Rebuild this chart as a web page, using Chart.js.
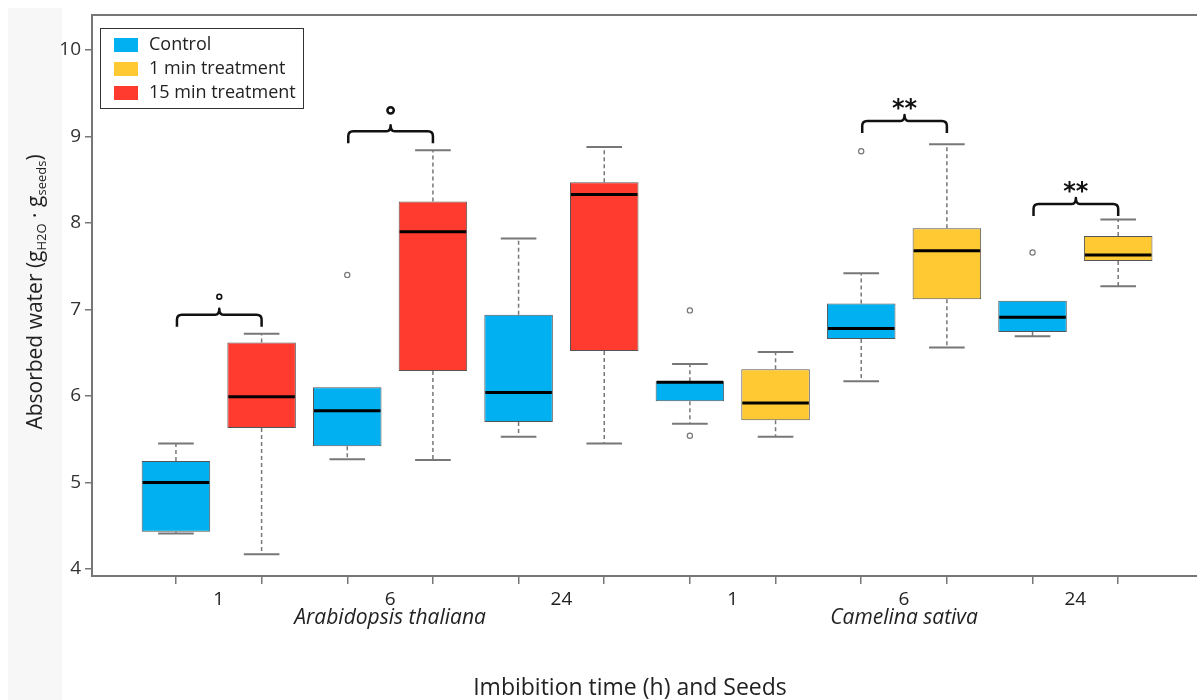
<!DOCTYPE html>
<html><head><meta charset="utf-8">
<script src="https://cdn.jsdelivr.net/npm/chart.js@4.4.0/dist/chart.umd.min.js"></script>
<style>html,body{margin:0;padding:0;background:#fff}#wrap{width:1197px;height:700px;position:relative}</style>
</head><body><div id="wrap"><canvas id="c" width="1197" height="700"></canvas></div>
<script>
// ---- data ----
const boxLabels = ['A1 Control','A1 15min','A6 Control','A6 15min','A24 Control','A24 15min','C1 Control','C1 1min','C6 Control','C6 1min','C24 Control','C24 1min'];
const treatments = ['Control','1 min treatment','15 min treatment'];
const treatmentColors = ['#00B0F0','#FFC933','#FF3A2F'];
const boxTreatment = [0,2,0,2,0,2,0,1,0,1,0,1];
const whiskerLow  = [4.41,4.17,5.27,5.26,5.53,5.45,5.68,5.53,6.17,6.56,6.69,7.27];
const q1          = [4.43,5.63,5.42,6.29,5.70,6.52,5.94,5.72,6.66,7.12,6.74,7.56];
const median      = [5.00,5.99,5.83,7.90,6.04,8.33,6.16,5.92,6.78,7.68,6.91,7.63];
const q3          = [5.25,6.62,6.10,8.25,6.94,8.47,6.17,6.31,7.07,7.94,7.10,7.85];
const whiskerHigh = [5.45,6.72,6.10,8.84,7.82,8.88,6.37,6.51,7.42,8.91,7.10,8.04];
const outlierBox   = [2,6,6,8,10];
const outlierValue = [7.40,6.99,5.54,8.83,7.66];
const yTicks = [4,5,6,7,8,9,10];
const timeLabels = ['1','6','24','1','6','24'];
const speciesLabels = ['Arabidopsis thaliana','Camelina sativa'];
const bracketPairs = [[0,1],[2,3],[8,9],[10,11]];
const bracketLevel = [6.94,9.06,9.18,8.22];
const bracketMark  = ['°','°','**','**'];

const FONT = '"Open Sans", Lato, sans-serif';
const boxIdx = boxLabels.map((_, i) => i);

const datasets = treatments.map((t, k) => ({
  type: 'bar',
  label: t,
  data: boxIdx.filter(i => boxTreatment[i] === k).map(i => ({x: i, y: [q1[i], q3[i]]})),
  backgroundColor: treatmentColors[k],
  borderColor: '#555',
  borderWidth: 1,
  borderSkipped: false,
  grouped: false,
  barPercentage: 1,
  categoryPercentage: 0.8
}));
datasets.push({
  type: 'scatter',
  label: 'outliers',
  data: outlierBox.map((b, j) => ({x: b, y: outlierValue[j]})),
  pointRadius: 2.6,
  pointBackgroundColor: '#fff',
  pointBorderColor: '#777',
  pointBorderWidth: 1.2
});

const bgPlugin = {
  id: 'bg',
  beforeDraw(chart) {
    const c = chart.ctx;
    c.save();
    c.fillStyle = '#fff'; c.fillRect(0, 0, chart.width, chart.height);
    c.fillStyle = '#f7f7f7'; c.fillRect(8, 8, 54, chart.height - 8);
    c.restore();
  }
};

const boxPlugin = {
  id: 'boxparts',
  afterDatasetsDraw(chart) {
    const c = chart.ctx, x = chart.scales.x, y = chart.scales.y;
    const bw = chart.getDatasetMeta(0).data[0].width;
    const cap = bw * 0.52;
    c.save();
    boxIdx.forEach(i => {
      const cx = x.getPixelForValue(i);
      const segs = [[q3[i], whiskerHigh[i]], [q1[i], whiskerLow[i]]];
      segs.forEach(([a, b]) => {
        if (Math.abs(a - b) < 1e-6) return;
        c.setLineDash([4, 3]); c.strokeStyle = '#777'; c.lineWidth = 1.5;
        c.beginPath(); c.moveTo(cx, y.getPixelForValue(a)); c.lineTo(cx, y.getPixelForValue(b)); c.stroke();
        c.setLineDash([]); c.strokeStyle = '#777'; c.lineWidth = 2;
        const yb = y.getPixelForValue(b);
        c.beginPath(); c.moveTo(cx - cap / 2, yb); c.lineTo(cx + cap / 2, yb); c.stroke();
      });
      c.setLineDash([]); c.strokeStyle = '#000'; c.lineWidth = 3;
      const ym = y.getPixelForValue(median[i]);
      c.beginPath(); c.moveTo(cx - bw / 2 + 1, ym); c.lineTo(cx + bw / 2 - 1, ym); c.stroke();
    });
    c.restore();
  }
};

const textPlugin = {
  id: 'texts',
  afterDraw(chart) {
    const c = chart.ctx, x = chart.scales.x, y = chart.scales.y, a = chart.chartArea;
    c.save();
    // top frame
    c.strokeStyle = '#777'; c.lineWidth = 2;
    c.beginPath(); c.moveTo(a.left - 1, a.top); c.lineTo(a.right, a.top); c.stroke();

    // group labels
    c.fillStyle = '#222'; c.textAlign = 'center'; c.textBaseline = 'middle';
    c.font = '19px ' + FONT;
    timeLabels.forEach((t, k) => c.fillText(t, x.getPixelForValue(2 * k + 0.5), a.bottom + 24));
    c.font = 'italic 21px ' + FONT;
    speciesLabels.forEach((s, k) => c.fillText(s, x.getPixelForValue(6 * k + 2.5), a.bottom + 42));
    c.font = '23px ' + FONT;
    c.fillText('Imbibition time (h) and Seeds', 630, 688);

    // y title with subscripts
    const parts = [['Absorbed water (g', 21, 0], ['H2O', 13, 6], [' · g', 21, 0], ['seeds', 13, 6], [')', 21, 0]];
    let total = 0;
    parts.forEach(p => { c.font = p[1] + 'px ' + FONT; p.push(c.measureText(p[0]).width); total += p[3]; });
    c.translate(36, 292); c.rotate(-Math.PI / 2);
    c.textAlign = 'left'; c.textBaseline = 'middle';
    let px = -total / 2;
    parts.forEach(p => { c.font = p[1] + 'px ' + FONT; c.fillText(p[0], px, p[2]); px += p[3]; });
    c.setTransform(1, 0, 0, 1, 0, 0);

    // legend
    const lx = a.left + 8, ly = a.top + 13;
    c.fillStyle = '#fff'; c.fillRect(lx, ly, 203, 80);
    c.strokeStyle = '#333'; c.lineWidth = 1; c.strokeRect(lx + 0.5, ly + 0.5, 203, 80);
    c.textAlign = 'left'; c.textBaseline = 'middle'; c.font = '18px ' + FONT;
    treatments.forEach((t, k) => {
      const cy = ly + 17 + k * 24;
      c.fillStyle = treatmentColors[k]; c.fillRect(lx + 14, cy - 7, 24, 14);
      c.fillStyle = '#222'; c.fillText(t, lx + 49, cy);
    });

    // brackets
    c.strokeStyle = '#111'; c.lineWidth = 2.5; c.lineJoin = 'round'; c.lineCap = 'butt';
    bracketPairs.forEach((pr, k) => {
      const xl = x.getPixelForValue(pr[0]) + 1, xr = x.getPixelForValue(pr[1]), xm = (xl + xr) / 2;
      const yb = y.getPixelForValue(bracketLevel[k]);
      c.beginPath();
      c.moveTo(xl, yb + 12); c.lineTo(xl, yb + 5); c.quadraticCurveTo(xl, yb, xl + 5, yb);
      c.lineTo(xm - 4, yb); c.quadraticCurveTo(xm, yb, xm, yb - 6);
      c.quadraticCurveTo(xm, yb, xm + 4, yb);
      c.lineTo(xr - 5, yb); c.quadraticCurveTo(xr, yb, xr, yb + 5); c.lineTo(xr, yb + 12);
      c.stroke();
      if (bracketMark[k] === '°') {
        const big = bracketLevel[k] > 8;
        c.lineWidth = big ? 2.5 : 1.6;
        c.beginPath(); c.arc(xm, yb - (big ? 21 : 18), big ? 3.2 : 2.4, 0, Math.PI * 2); c.stroke();
        c.lineWidth = 2.5;
      } else {
        c.fillStyle = '#111'; c.textAlign = 'center'; c.textBaseline = 'middle';
        c.font = 'bold 24px "DejaVu Sans", sans-serif';
        c.fillText(bracketMark[k], xm, yb - 11);
      }
    });
    c.restore();
  }
};

new Chart(document.getElementById('c'), {
  type: 'bar',
  data: { datasets },
  options: {
    responsive: false,
    animation: false,
    devicePixelRatio: 1,
    events: [],
    layout: { autoPadding: false, padding: { top: 15, left: 0, right: 0, bottom: 0 } },
    plugins: { legend: { display: false }, tooltip: { enabled: false } },
    scales: {
      x: {
        type: 'linear', position: 'bottom', min: -0.98, max: 11.92, offset: false,
        afterBuildTicks: s => { s.ticks = boxIdx.map(i => ({ value: i })); },
        afterFit: s => { s.height = 124; s.paddingLeft = 0; s.paddingRight = 0; },
        ticks: { display: false },
        grid: { offset: false, drawOnChartArea: false, drawTicks: true, tickLength: 8, color: '#777', lineWidth: 1.5 },
        border: { display: true, color: '#777', width: 2 }
      },
      y: {
        type: 'linear', min: 3.919, max: 10.405,
        afterBuildTicks: s => { s.ticks = yTicks.map(v => ({ value: v })); },
        afterFit: s => { s.width = 92; s.paddingTop = 0; s.paddingBottom = 0; },
        ticks: { font: { family: FONT, size: 19 }, color: '#333', padding: 4 },
        grid: { drawOnChartArea: false, tickLength: 7, color: '#777', lineWidth: 1.5 },
        border: { color: '#777', width: 2 }
      }
    }
  },
  plugins: [bgPlugin, boxPlugin, textPlugin]
});
</script>
</body></html>
